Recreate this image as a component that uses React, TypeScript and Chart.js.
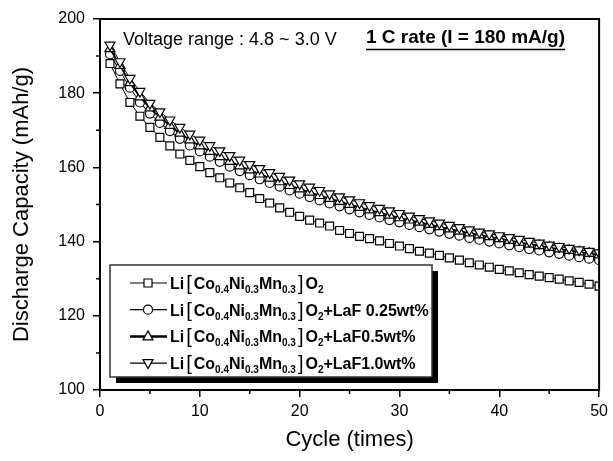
import React, { useEffect, useRef } from "react";
import { Chart, registerables } from "chart.js";
Chart.register(...registerables);

const FONT = "'Liberation Sans', Arial, Helvetica, sans-serif";

const cycles = [
  1, 2, 3, 4, 5, 6, 7, 8, 9, 10, 11, 12, 13, 14, 15, 16, 17, 18, 19, 20, 21, 22, 23, 24, 25,
  26, 27, 28, 29, 30, 31, 32, 33, 34, 35, 36, 37, 38, 39, 40, 41, 42, 43, 44, 45, 46, 47, 48, 49, 50,
];

const pristine = [
  188.0, 182.5, 177.5, 173.8, 170.8, 168.1, 165.8, 163.6, 161.9, 160.2,
  158.6, 157.2, 155.8, 154.5, 153.2, 151.6, 150.4, 149.1, 147.9, 146.8,
  145.8, 145.0, 144.2, 143.0, 142.2, 141.4, 140.8, 140.2, 139.5, 138.8,
  138.1, 137.4, 136.9, 136.3, 135.6, 135.0, 134.3, 133.7, 133.1, 132.5,
  132.1, 131.6, 131.1, 130.7, 130.3, 129.9, 129.4, 129.0, 128.5, 128.0,
];
const laf025 = [
  190.5, 186.0, 181.5, 177.5, 174.5, 172.0, 169.8, 167.7, 165.9, 164.3,
  162.9, 161.5, 160.2, 159.0, 157.9, 156.8, 155.8, 154.8, 153.8, 152.9,
  152.0, 151.1, 150.3, 149.5, 148.7, 147.9, 147.2, 146.5, 145.8, 145.2,
  144.5, 143.9, 143.3, 142.7, 142.1, 141.6, 141.0, 140.5, 140.0, 139.5,
  139.0, 138.5, 138.0, 137.6, 137.1, 136.7, 136.2, 135.8, 135.4, 135.0,
];
const laf05 = [
  192.0, 187.5, 182.8, 179.0, 176.0, 173.5, 171.3, 169.2, 167.4, 165.8,
  164.3, 162.9, 161.6, 160.4, 159.3, 158.2, 157.1, 156.1, 155.1, 154.2,
  153.3, 152.4, 151.6, 150.8, 150.0, 149.2, 148.5, 147.8, 147.1, 146.4,
  145.8, 145.2, 144.6, 144.0, 143.4, 142.8, 142.3, 141.8, 141.3, 140.8,
  140.3, 139.8, 139.3, 138.9, 138.4, 138.0, 137.6, 137.2, 136.8, 136.4,
];
const laf10 = [
  193.0, 188.5, 184.0, 180.5, 177.3, 175.0, 172.8, 170.8, 169.0, 167.4,
  165.9, 164.5, 163.2, 162.0, 160.8, 159.7, 158.6, 157.6, 156.6, 155.6,
  154.7, 153.8, 152.9, 152.1, 151.3, 150.5, 149.7, 149.0, 148.3, 147.6,
  146.9, 146.2, 145.6, 145.0, 144.4, 143.8, 143.2, 142.6, 142.1, 141.6,
  141.1, 140.6, 140.1, 139.6, 139.1, 138.7, 138.2, 137.8, 137.4, 137.0,
];

const legendSuffixes = ["", "+LaF 0.25wt%", "+LaF0.5wt%", "+LaF1.0wt%"];
const legendMarkers = ["square", "circle", "up", "down"];
const xMinorTicks = [5, 15, 25, 35, 45];
const yMinorTicks = [110, 130, 150, 170, 190];
const voltageText = "Voltage range : 4.8 ~ 3.0 V";
const rateText = "1 C rate (I = 180 mA/g)";

function drawMarker(ctx: CanvasRenderingContext2D, kind: string, x: number, y: number) {
  ctx.beginPath();
  if (kind === "square") {
    ctx.rect(x - 4, y - 4, 8, 8);
  } else if (kind === "circle") {
    ctx.arc(x, y, 4.5, 0, Math.PI * 2);
  } else if (kind === "up") {
    ctx.moveTo(x, y - 5.5);
    ctx.lineTo(x + 5, y + 3.5);
    ctx.lineTo(x - 5, y + 3.5);
    ctx.closePath();
  } else {
    ctx.moveTo(x, y + 5.5);
    ctx.lineTo(x + 5, y - 3.5);
    ctx.lineTo(x - 5, y - 3.5);
    ctx.closePath();
  }
  ctx.fillStyle = "#fff";
  ctx.fill();
  ctx.lineWidth = 1.2;
  ctx.strokeStyle = "#000";
  ctx.stroke();
}

function drawFormula(ctx: CanvasRenderingContext2D, x: number, baseline: number, suffix: string) {
  const main = `bold 16px ${FONT}`;
  const sub = `bold 10px ${FONT}`;
  const br = `20px ${FONT}`;
  const segs: [string, string, number, number][] = [
    ["Li", main, 0, 0],
    ["[", br, 1, 2],
    ["Co", main, 0, 0],
    ["0.4", sub, 4, 0],
    ["Ni", main, 0, 0],
    ["0.3", sub, 4, 0],
    ["Mn", main, 0, 0],
    ["0.3", sub, 4, 0],
    ["]", br, 1, 2],
    ["O", main, 0, 0],
    ["2", sub, 4, 0],
    [suffix, main, 0, 0],
  ];
  let cx = x;
  ctx.fillStyle = "#000";
  ctx.textBaseline = "alphabetic";
  ctx.textAlign = "left";
  for (const [t, f, dy, gap] of segs) {
    if (!t) continue;
    ctx.font = f;
    cx += gap;
    ctx.fillText(t, cx, baseline + dy);
    cx += ctx.measureText(t).width + gap;
  }
}

const decorPlugin = {
  id: "decor",
  afterDraw(chart: any) {
    const ctx: CanvasRenderingContext2D = chart.ctx;
    const { left, right, top, bottom } = chart.chartArea;
    const xs = chart.scales.x;
    const ys = chart.scales.y;
    ctx.save();
    // frame
    ctx.strokeStyle = "#000";
    ctx.lineWidth = 2;
    ctx.strokeRect(left, top, right - left, bottom - top);
    // minor ticks
    ctx.lineWidth = 1.5;
    ctx.beginPath();
    for (const v of yMinorTicks) {
      const py = ys.getPixelForValue(v);
      ctx.moveTo(left - 4, py);
      ctx.lineTo(left, py);
    }
    for (const v of xMinorTicks) {
      const px = xs.getPixelForValue(v);
      ctx.moveTo(px, bottom);
      ctx.lineTo(px, bottom + 4);
    }
    ctx.stroke();

    // annotation texts
    ctx.fillStyle = "#000";
    ctx.textBaseline = "alphabetic";
    ctx.textAlign = "left";
    ctx.font = `18px ${FONT}`;
    ctx.fillText(voltageText, 123, 45);
    ctx.font = `bold 19px ${FONT}`;
    const rx = 366;
    ctx.fillText(rateText, rx, 43);
    const w = ctx.measureText(rateText).width;
    ctx.lineWidth = 1.5;
    ctx.beginPath();
    ctx.moveTo(rx, 49.5);
    ctx.lineTo(rx + w, 49.5);
    ctx.stroke();

    // legend box with shadow
    const bx = 110, by = 265, bw = 322, bh = 112;
    ctx.fillStyle = "#000";
    ctx.fillRect(bx + 6, by + 6, bw, bh);
    ctx.fillStyle = "#fff";
    ctx.fillRect(bx, by, bw, bh);
    ctx.strokeStyle = "#333";
    ctx.lineWidth = 1.5;
    ctx.strokeRect(bx, by, bw, bh);
    ctx.beginPath();
    ctx.rect(bx, by, bw, bh);
    ctx.clip();
    for (let i = 0; i < legendSuffixes.length; i++) {
      const cy = 283 + i * 26.7;
      ctx.strokeStyle = "#000";
      ctx.lineWidth = i === 2 ? 2.5 : 1.2;
      ctx.beginPath();
      ctx.moveTo(130, cy);
      ctx.lineTo(167, cy);
      ctx.stroke();
      drawMarker(ctx, legendMarkers[i], 148, cy);
      drawFormula(ctx, 170, cy + 6, legendSuffixes[i]);
    }
    ctx.restore();
  },
};

function toPoints(vals: number[]) {
  return vals.map((v, i) => ({ x: cycles[i], y: v }));
}

export default function App() {
  const ref = useRef<HTMLCanvasElement>(null);
  useEffect(() => {
    if (!ref.current) return;
    Chart.defaults.font.family = FONT;
    Chart.defaults.color = "#000";
    const common = {
      borderColor: "#000",
      backgroundColor: "#fff",
      pointBackgroundColor: "#fff",
      pointBorderColor: "#000",
      pointBorderWidth: 1.2,
      borderWidth: 1,
      clip: 0,
      tension: 0,
    };
    const chart = new Chart(ref.current, {
      type: "line",
      data: {
        datasets: [
          { ...common, label: "pristine", data: toPoints(pristine), pointStyle: "rect", pointRadius: 5.6, order: 4 },
          { ...common, label: "LaF 0.25wt%", data: toPoints(laf025), pointStyle: "circle", pointRadius: 4.5, order: 3 },
          { ...common, label: "LaF0.5wt%", data: toPoints(laf05), pointStyle: "triangle", pointRadius: 5.8, borderWidth: 1.8, order: 2 },
          { ...common, label: "LaF1.0wt%", data: toPoints(laf10), pointStyle: "triangle", pointRotation: 180, pointRadius: 5.8, order: 1 },
        ] as any,
      },
      options: {
        animation: false,
        responsive: true,
        maintainAspectRatio: false,
        layout: { padding: { top: 19, right: 12, left: 0, bottom: 0 } },
        plugins: { legend: { display: false }, tooltip: { enabled: false } },
        scales: {
          x: {
            type: "linear",
            min: 0,
            max: 50,
            ticks: { stepSize: 10, font: { size: 16 }, color: "#000", padding: 5 },
            grid: { drawOnChartArea: false, tickLength: 7, color: "#000", lineWidth: 1.5 },
            border: { display: true, color: "#000", width: 2 },
            title: { display: true, text: "Cycle (times)", font: { size: 22 }, color: "#000", padding: { top: 4, bottom: 8 } },
            afterFit: (s: any) => { s.height = 71; },
          },
          y: {
            min: 100,
            max: 200,
            ticks: { stepSize: 20, font: { size: 16 }, color: "#000", padding: 8 },
            grid: { drawOnChartArea: false, tickLength: 7, color: "#000", lineWidth: 1.5 },
            border: { display: true, color: "#000", width: 2 },
            title: { display: true, text: "Discharge Capacity (mAh/g)", font: { size: 22 }, color: "#000", padding: { top: 9, bottom: 4 } },
            afterFit: (s: any) => { s.width = 100; },
          },
        },
      } as any,
      plugins: [decorPlugin],
    });
    return () => chart.destroy();
  }, []);
  return (
    <div style={{ position: "fixed", left: 0, top: 0, width: 613, height: 461, background: "#fff" }}>
      <canvas ref={ref} />
    </div>
  );
}
